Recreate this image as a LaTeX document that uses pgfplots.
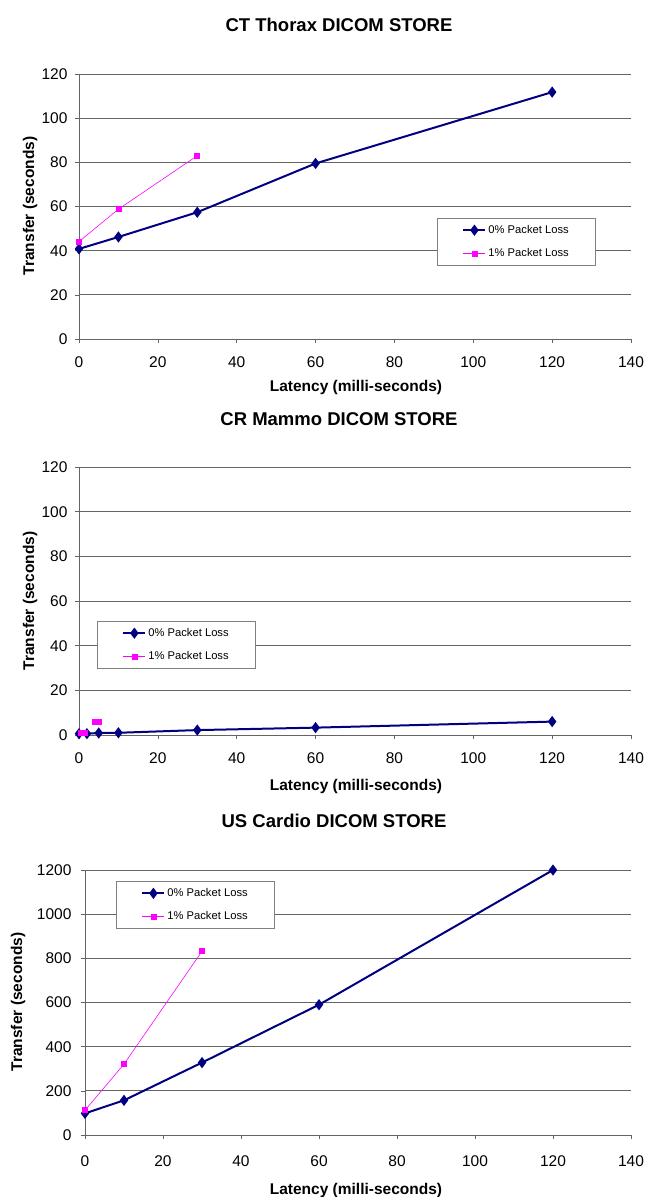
\documentclass[border=0pt]{standalone}
\usepackage{pgfplots}
\pgfplotsset{compat=1.18}
\usepackage{fontspec}
\setmainfont{Liberation Sans}
\definecolor{navy}{RGB}{0,0,128}
\definecolor{pinkm}{RGB}{255,0,255}
\definecolor{gridc}{RGB}{100,100,100}
\pgfplotsset{
  mystyle/.style={
    scale only axis,
    anchor=south west,
    xmin=0, xmax=140, ymin=0,
    xtick={0,20,...,140},
    axis x line*=bottom, axis y line*=left,
    axis line style={gridc, -},
    ymajorgrids, grid style={gridc, line width=0.8pt},
    tick style={gridc, line width=0.6pt},
    tick align=outside, major tick length=4pt,
    xtick pos=bottom, ytick pos=left,
    tick label style={font=\fontsize{15.5}{16}\selectfont},
    xticklabel style={yshift=-10pt},
    yticklabel style={xshift=-4pt},
    /pgf/number format/assume math mode=true,
    /pgf/number format/1000 sep={},
    clip=false,
    legend cell align=left,
    legend style={draw=gray, line width=0.8pt, fill=white, font=\fontsize{11.2}{12}\selectfont,
      inner xsep=25pt, inner ysep=5pt, row sep=9.5pt, nodes={inner sep=2pt}},
    legend image code/.code={
      \draw[mark repeat=2,mark phase=2,##1] plot coordinates {(0pt,0pt) (11pt,0pt) (22pt,0pt)};
    },
  },
  zero/.style={color=navy, line width=2pt, mark=diamond*, mark size=4pt, mark options={solid, fill=navy}},
  one/.style={color=pinkm, line width=0.6pt, mark=square*, mark size=2.5pt, mark options={solid, fill=pinkm}},
}
\newcommand{\tfont}{\bfseries\fontsize{18.5}{19}\selectfont}
\newcommand{\lfont}{\bfseries\fontsize{15.5}{16}\selectfont}
\begin{document}
\begin{tikzpicture}
\path[use as bounding box] (0pt,0pt) rectangle (647pt,-1197pt);
% Chart 1
\node[font=\tfont] at (339pt,-25pt) {CT Thorax DICOM STORE};
\begin{axis}[mystyle, at={(79pt,-339pt)}, width=552pt, height=265pt, ymax=120, ytick={0,20,...,120},
  legend style={at={(0.6486,0.4566)}, anchor=north west}]
\addplot[zero] coordinates {(0,40.8) (10,46.2) (30,57.4) (60,79.5) (120,111.8)};
\addlegendentry{0\% Packet Loss}
\addplot[one] coordinates {(0,44.1) (10,58.8) (30,83.0)};
\addlegendentry{1\% Packet Loss}
\end{axis}
\node[font=\lfont] at (356pt,-387pt) {Latency (milli-seconds)};
\node[font=\lfont, rotate=90] at (30pt,-206pt) {Transfer (seconds)};
% Chart 2
\node[font=\tfont] at (339pt,-419pt) {CR Mammo DICOM STORE};
\begin{axis}[mystyle, at={(79pt,-735pt)}, width=552pt, height=268pt, ymax=120, ytick={0,20,...,120},
  legend style={at={(0.0326,0.4254)}, anchor=north west}]
\addplot[zero] coordinates {(0,0.6) (2,0.6) (5,0.9) (10,1.0) (30,2.2) (60,3.3) (120,6.0)};
\addlegendentry{0\% Packet Loss}
\addplot[one, unbounded coords=jump] coordinates {(0.5,0.8) (1.5,0.8) (nan,nan) (4,6.0) (5,6.0)};
\addlegendentry{1\% Packet Loss}
\end{axis}
\node[font=\lfont] at (356pt,-786pt) {Latency (milli-seconds)};
\node[font=\lfont, rotate=90] at (30pt,-601pt) {Transfer (seconds)};
% Chart 3
\node[font=\tfont] at (334pt,-821pt) {US Cardio DICOM STORE};
\begin{axis}[mystyle, at={(85pt,-1135pt)}, width=546pt, height=265pt, ymax=1200, ytick={0,200,...,1200},
  xticklabel style={yshift=-3pt}, yticklabel style={xshift=-2pt},
  legend style={at={(0.0568,0.958)}, anchor=north west}]
\addplot[zero] coordinates {(0,98) (10,157) (30,328) (60,590) (120,1200)};
\addlegendentry{0\% Packet Loss}
\addplot[one] coordinates {(0,112) (10,321) (30,832)};
\addlegendentry{1\% Packet Loss}
\end{axis}
\node[font=\lfont] at (356pt,-1190pt) {Latency (milli-seconds)};
\node[font=\lfont, rotate=90] at (18pt,-1002pt) {Transfer (seconds)};
\end{tikzpicture}
\end{document}
